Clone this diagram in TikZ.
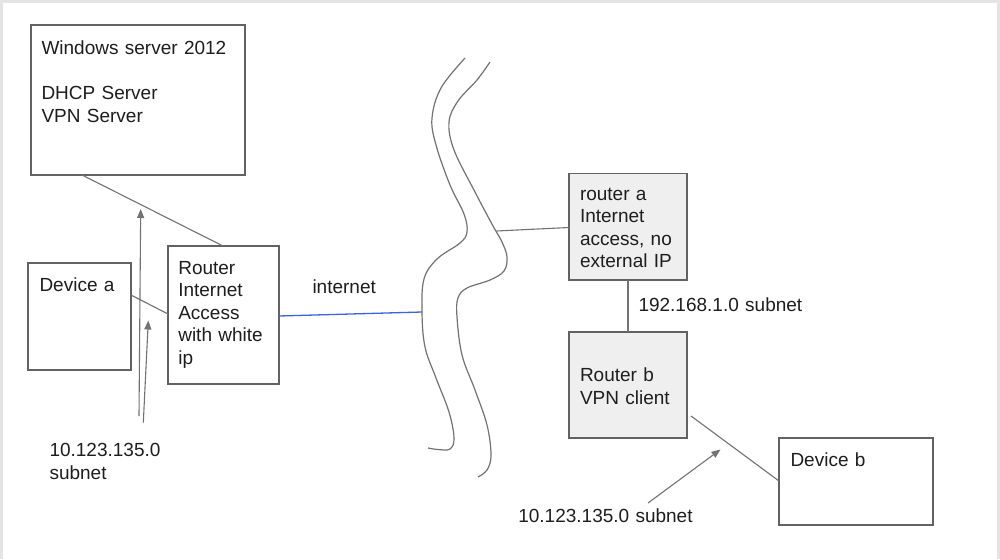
\documentclass[tikz,border=0pt]{standalone}
\usepackage{fontspec}
\setmainfont{Liberation Sans}
\usetikzlibrary{arrows.meta}
\definecolor{framegrey}{HTML}{E4E4E4}
\definecolor{boxline}{HTML}{626262}
\definecolor{conline}{HTML}{727272}
\definecolor{boxfill}{HTML}{EFEFEF}
\definecolor{netblue}{HTML}{3F63E0}
\definecolor{txt}{HTML}{1E1E1E}
\begin{document}
\begin{tikzpicture}[x=1pt,y=-1pt,
  box/.style={draw=boxline,line width=1.2pt,inner sep=0pt,outer sep=0pt,anchor=north west,fill=white},
  grbox/.style={box,fill=boxfill},
  lbl/.style={inner sep=0pt,outer sep=0pt,anchor=base west,text=txt,align=left,
    font=\fontsize{19pt}{22.5pt}\selectfont,text width=#1},
  lbl/.default=220pt,
  con/.style={draw=conline,line width=1.1pt},
  arr/.style={con,-{Triangle[length=9pt,width=7pt]}},
  river/.style={draw=conline,line width=1.2pt,smooth,tension=0.6}]
\useasboundingbox (0,0) rectangle (1000,559);
% page frame
\fill[framegrey] (0,0) rectangle (1000,559);
\fill[white] (3,3) rectangle (997,559);

% boxes
\node[box,minimum width=214pt,minimum height=150pt] (ws) at (31,25) {};
\node[box,minimum width=103pt,minimum height=107pt] (deva) at (28,263) {};
\node[box,minimum width=111pt,minimum height=138pt] (rtr) at (168,246) {};
\node[grbox,minimum width=118pt,minimum height=106.5pt] (ra) at (569,173.5) {};
\node[grbox,minimum width=118pt,minimum height=106pt] (rb) at (569,332) {};
\node[box,minimum width=154pt,minimum height=87pt] (devb) at (779,438) {};

% texts
\node[lbl] (wst) at (41.5,55) {Windows server 2012\\[22.5pt]DHCP Server\\VPN Server};
\node[lbl] (devat) at (39.5,291) {Device a};
\node[lbl] (rtrt) at (178.3,274) {Router\\Internet\\Access\\with white\\ip};
\node[lbl] (inet) at (312.5,293.3) {internet};
\node[lbl] (rat) at (580,200) {router a\\Internet\\access, no\\external IP};
\node[lbl] (sub192) at (638.5,311.7) {192.168.1.0 subnet};
\node[lbl] (rbt) at (580,381.7) {Router b\\VPN client};
\node[lbl] (devbt) at (790.5,466.7) {Device b};
\node[lbl] (subl) at (49.5,456.7) {10.123.135.0\\subnet};
\node[lbl] (subr) at (518.3,522.7) {10.123.135.0 subnet};

% river
\draw[river] plot coordinates {(465,58) (441,88) (432,118) (436,145) (450,185) (464,214) (467,232) (460,243) (437,259) (424,279) (422,312) (425,347) (436,378) (449,412) (454,438) (450,449) (438,449.5) (428,448)};
\draw[river] plot coordinates {(490,62) (477,80) (458,101) (449,122) (454,150) (475,192) (493,226) (502,242) (507,257) (504,271) (490,280) (467,288) (458,298) (457,317) (462,355) (475,390) (487,425) (491,455) (487,470) (478,477)};
\coordinate (rivL) at (422,312);
\coordinate (rivR) at (496.5,231);

% connectors
\draw[con] ([xshift=51pt]ws.south west) -- ([xshift=55pt]rtr.north west);
\draw[con] ([yshift=-32pt]deva.north east) -- ([yshift=-68pt]rtr.north west);
\draw[draw=netblue,line width=1.3pt] ([yshift=-70pt]rtr.north east) -- (rivL);
\draw[con] (rivR) -- ([yshift=-54pt]ra.north west);
\draw[con] (ra.south) -- (rb.north);
\draw[con] ([xshift=4pt,yshift=22pt]rb.south east) -- ([yshift=-43pt]devb.north west);

% arrows
\coordinate (a1s) at (139,416);
\coordinate (a1e) at (140.7,209);
\coordinate (a2s) at (143.3,422.7);
\coordinate (a2e) at (148.3,320.5);
\coordinate (a3s) at (648,503);
\coordinate (a3e) at (720.5,449.5);
\draw[arr] (a1s) -- (a1e);
\draw[arr] (a2s) -- (a2e);
\draw[arr] (a3s) -- (a3e);
\end{tikzpicture}
\end{document}
